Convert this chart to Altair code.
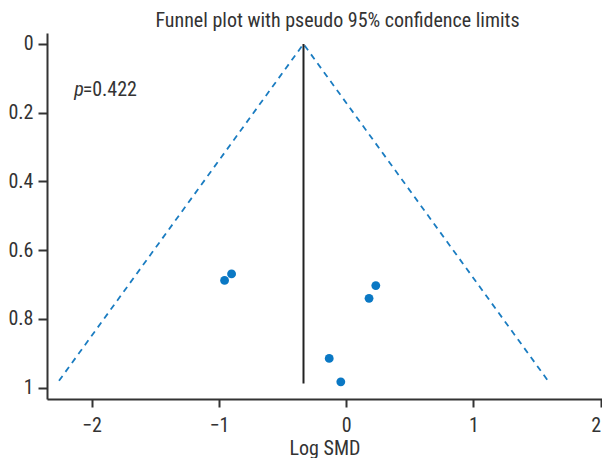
import altair as alt
import pandas as pd

# study data
smd = [-0.90, -0.955, 0.233, 0.18, -0.133, -0.042]
se = [0.669, 0.688, 0.703, 0.740, 0.915, 0.983]

pooled = -0.335
se_max = 0.98
line_bottom = 0.988

FONT = "Liberation Sans Narrow, Roboto Condensed, Roboto, sans-serif"
INK = "#333333"

pts = pd.DataFrame({"smd": smd, "se": se})
funnel = pd.DataFrame({
    "x": [pooled - 1.96 * se_max, pooled, pooled + 1.96 * se_max],
    "y": [se_max, 0, se_max],
})
vline = pd.DataFrame({"x": [pooled], "y": [0.0], "y2": [line_bottom]})

xs = alt.Scale(domain=[-2.35, 2.01], nice=False, zero=False)
ys = alt.Scale(domain=[-0.032, 1.033], nice=False, zero=False, reverse=True)

xax = alt.Axis(values=[-2, -1, 0, 1, 2], format="d", title="Log SMD", grid=False,
               tickSize=8, tickWidth=2, domainWidth=2, domainColor=INK, tickColor=INK,
               labelFont=FONT, labelFontSize=20, labelColor=INK, labelPadding=8,
               labelAlign={"condition": {"test": "datum.value == 2", "value": "right"}, "value": "center"},
               titleFont=FONT, titleFontSize=20, titleFontWeight="normal", titleColor=INK,
               titlePadding=3)
yax = alt.Axis(values=[0, 0.2, 0.4, 0.6, 0.8, 1], title=None, grid=False,
               labelExpr="datum.value == 0 ? '0' : datum.value == 1 ? '1' : format(datum.value, '.1f')",
               tickSize=9, tickWidth=2, domainWidth=2, domainColor=INK, tickColor=INK,
               labelFont=FONT, labelFontSize=20, labelColor=INK, labelPadding=5)

base_f = alt.Chart(funnel).mark_line(color="#1a7cc1", strokeDash=[6, 5], strokeWidth=1.8).encode(
    x=alt.X("x:Q", scale=xs, axis=xax),
    y=alt.Y("y:Q", scale=ys, axis=yax),
)

vl = alt.Chart(vline).mark_rule(color="#222222", strokeWidth=2).encode(
    x="x:Q", y="y:Q", y2="y2:Q"
)

dots = alt.Chart(pts).mark_circle(color="#0a78c4", opacity=1, size=78).encode(
    x="smd:Q", y="se:Q"
)

ptxt = pd.DataFrame({"x": [-2.135], "y": [0.133], "t": ["p"]})
vtxt = pd.DataFrame({"x": [-2.07], "y": [0.133], "t": ["=0.422"]})
t1 = alt.Chart(ptxt).mark_text(font=FONT, fontSize=20, fontStyle="italic", align="left",
                               baseline="middle", color=INK).encode(x="x:Q", y="y:Q", text="t:N")
t2 = alt.Chart(vtxt).mark_text(font=FONT, fontSize=20, align="left",
                               baseline="middle", color=INK).encode(x="x:Q", y="y:Q", text="t:N")

chart = alt.layer(base_f, vl, dots, t1, t2).properties(
    width=555, height=366,
    padding={"left": 39, "top": 25, "right": 0, "bottom": 59},
    autosize=alt.AutoSizeParams(type="none"),
    title=alt.TitleParams("Funnel plot with pseudo 95% confidence limits", font=FONT,
                          fontSize=20, fontWeight="normal", color=INK,
                          anchor="middle", dx=13, offset=2),
).configure_view(stroke=None)

chart.save("out.html", embed_options={"renderer": "svg", "actions": False})
